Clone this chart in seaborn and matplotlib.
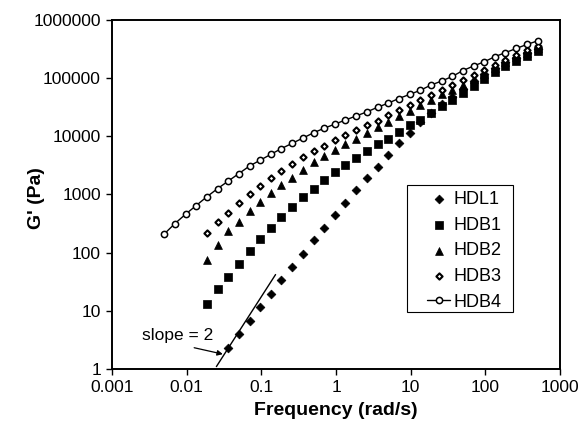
import matplotlib
matplotlib.use("Agg")
import matplotlib.pyplot as plt
import seaborn as sns
import pandas as pd
from matplotlib.patches import Rectangle
from matplotlib.ticker import FixedLocator, FixedFormatter, NullLocator

# ---------------- data ----------------
freq = [0.005, 0.00695, 0.00965, 0.0134, 0.0186, 0.0259, 0.036, 0.05, 0.0695,
        0.0965, 0.134, 0.186, 0.259, 0.36, 0.5, 0.695, 0.965, 1.34, 1.86, 2.59,
        3.6, 5, 6.95, 9.65, 13.4, 18.6, 25.9, 36, 50, 69.5, 96.5, 134, 186, 259,
        360, 500]

hdl1 = [2.34, 4.07, 6.76, 11.7, 19.5, 33.9, 56.2, 95.5, 166, 269, 447, 724,
        1200, 1910, 3020, 4790, 7590, 11500, 17400, 25100, 35500, 47900, 66100,
        89100, 117000, 151000, 186000, 224000, 269000, 316000]          # from freq[6]
hdb1 = [12.9, 23.4, 38.9, 63.1, 107, 170, 263, 407, 603, 891, 1260, 1780, 2450,
        3160, 4270, 5620, 7240, 9120, 12000, 15500, 19100, 25100, 33100, 42700,
        56200, 74100, 97700, 129000, 162000, 200000, 245000, 288000]     # from freq[4]
hdb2 = [75.9, 135, 234, 339, 525, 741, 1050, 1450, 1950, 2630, 3550, 4570, 5750,
        7410, 8910, 11500, 14500, 17800, 22400, 27500, 33900, 42700, 52500,
        63100, 77600, 95500, 120000, 148000, 186000, 229000, 275000, 331000]  # from freq[4]
hdb3 = [219, 331, 490, 708, 1020, 1410, 1910, 2570, 3390, 4370, 5620, 6920, 8510,
        10500, 12900, 15500, 18600, 22900, 28200, 33900, 41700, 51300, 63100,
        75900, 91200, 112000, 138000, 170000, 209000, 251000, 302000, 363000]  # from freq[4]
hdb4 = [209, 316, 457, 646, 912, 1260, 1700, 2290, 3090, 3890, 4900, 6170, 7590,
        9330, 11500, 13800, 16200, 19100, 22400, 26300, 31600, 37200, 44700,
        52500, 61700, 75900, 89100, 107000, 135000, 162000, 191000, 234000,
        275000, 324000, 380000, 437000]                                  # from freq[0]

slope_x = [0.025, 0.155]
slope_y = [1.1, 42]

x_ticks = [0.001, 0.01, 0.1, 1, 10, 100, 1000]
x_labels = ["0.001", "0.01", "0.1", "1", "10", "100", "1000"]
y_ticks = [1, 10, 100, 1000, 10000, 100000, 1000000]
y_labels = ["1", "10", "100", "1000", "10000", "100000", "1000000"]

# ---------------- plotting ----------------
sns.set_style("ticks")
plt.rcParams["font.family"] = ["Liberation Sans", "DejaVu Sans"]
plt.rcParams["text.color"] = "black"
plt.rcParams["axes.labelcolor"] = "black"

fig = plt.figure(figsize=(5.84, 4.34), dpi=100)
ax = fig.add_axes([0.1918, 0.1498, 0.7671, 0.8041])

def frame(vals, start):
    return pd.DataFrame({"f": freq[start:start + len(vals)], "g": vals})

d1 = frame(hdl1, 6)
d2 = frame(hdb1, 4)
d3 = frame(hdb2, 4)
d4 = frame(hdb3, 4)
d5 = frame(hdb4, 0)

sns.scatterplot(data=d1, x="f", y="g", marker="D", s=20, color="black",
                edgecolor="black", linewidth=0.5, label="HDL1", ax=ax, zorder=3)
sns.scatterplot(data=d2, x="f", y="g", marker="s", s=28, color="black",
                edgecolor="black", linewidth=0.5, label="HDB1", ax=ax, zorder=3)
sns.scatterplot(data=d3, x="f", y="g", marker="^", s=32, color="black",
                edgecolor="black", linewidth=0.5, label="HDB2", ax=ax, zorder=3)
sns.scatterplot(data=d4, x="f", y="g", marker="D", s=10, facecolor="white",
                edgecolor="black", linewidth=1.5, label="HDB3", ax=ax, zorder=4)
sns.lineplot(data=d5, x="f", y="g", marker="o", markersize=4.5,
             markerfacecolor="white", markeredgecolor="black",
             markeredgewidth=1.1, color="black", linewidth=1.0,
             label="HDB4", ax=ax, zorder=5)

# slope = 2 guide
sns.lineplot(x=slope_x, y=slope_y, color="black", linewidth=1.0, ax=ax,
             legend=False, zorder=2)
ax.text(0.0075, 3.7, "slope = 2", fontsize=12.5, ha="center", va="center")
ax.annotate("", xy=(0.0305, 1.8), xytext=(0.0126, 2.32),
            arrowprops=dict(arrowstyle="-|>", color="black", lw=0.9,
                            mutation_scale=8, shrinkA=0, shrinkB=0))

ax.set_xscale("log")
ax.set_yscale("log")
ax.set_xlim(0.001, 1000)
ax.set_ylim(1, 1000000)
ax.xaxis.set_major_locator(FixedLocator(x_ticks))
ax.xaxis.set_major_formatter(FixedFormatter(x_labels))
ax.yaxis.set_major_locator(FixedLocator(y_ticks))
ax.yaxis.set_major_formatter(FixedFormatter(y_labels))
ax.xaxis.set_minor_locator(NullLocator())
ax.yaxis.set_minor_locator(NullLocator())
ax.tick_params(axis="both", which="major", direction="out", length=4,
               width=1.0, labelsize=12.5, pad=4, colors="black")

for sp in ax.spines.values():
    sp.set_visible(True)
    sp.set_linewidth(1.4)
    sp.set_color("black")

ax.set_xlabel("Frequency (rad/s)", fontsize=14, fontweight="bold",
              labelpad=5, color="black")
ax.set_ylabel("G' (Pa)", fontsize=14, fontweight="bold", color="black")
ax.yaxis.set_label_coords(-0.150, 0.49)

leg = ax.legend(loc="upper left", bbox_to_anchor=(0.703, 0.510),
                borderaxespad=0, frameon=False, fontsize=13,
                labelspacing=0.48, handlelength=1.3, handletextpad=0.15,
                borderpad=0)
ax.add_patch(Rectangle((0.658, 0.163), 0.237, 0.364, transform=ax.transAxes,
                       fill=False, edgecolor="black", linewidth=0.8, zorder=6))

fig.savefig("out.png", dpi=100)
